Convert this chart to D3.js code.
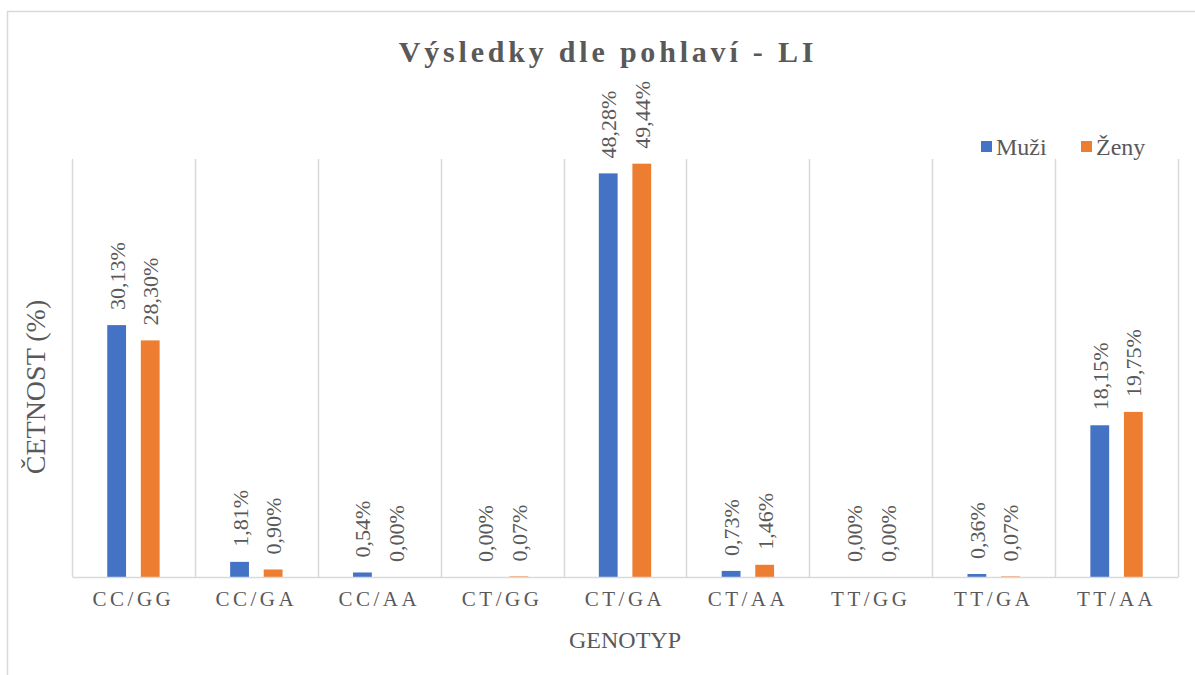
<!DOCTYPE html>
<html>
<head>
<meta charset="utf-8">
<script src="https://cdn.jsdelivr.net/npm/d3@7"></script>
<style>
  body { margin: 0; background: #fff; }
  svg text { font-family: "Liberation Serif", "Times New Roman", serif; fill: #595959; }
</style>
</head>
<body>
<div id="chart"></div>
<script>
const categories = ["CC/GG", "CC/GA", "CC/AA", "CT/GG", "CT/GA", "CT/AA", "TT/GG", "TT/GA", "TT/AA"];
const seriesNames = ["Muži", "Ženy"];
const muzi = [30.13, 1.81, 0.54, 0.00, 48.28, 0.73, 0.00, 0.36, 18.15];
const zeny = [28.30, 0.90, 0.00, 0.07, 49.44, 1.46, 0.00, 0.07, 19.75];
const colors = ["#4472C4", "#ED7D31"];

const width = 1195;
const height = 675;
const plot = { left: 72, right: 1178, top: 159, bottom: 577 };

const svg = d3
  .select("#chart")
  .append("svg")
  .attr("width", width)
  .attr("height", height);

// outer chart border
svg
  .append("rect")
  .attr("x", 7.5)
  .attr("y", 11.5)
  .attr("width", 1200)
  .attr("height", 700)
  .attr("fill", "none")
  .attr("stroke", "#d9d9d9")
  .attr("stroke-width", 1.5);

const x0 = d3
  .scaleBand()
  .domain(categories)
  .range([plot.left, plot.right]);

const x1 = d3
  .scaleBand()
  .domain(seriesNames)
  .range([0, x0.bandwidth()])
  .paddingInner(0.44)
  .paddingOuter(1.05);

const y = d3
  .scaleLinear()
  .domain([0, 50])
  .range([plot.bottom, plot.top]);

// vertical gridlines between categories
const bounds = categories.map((c) => x0(c)).concat([plot.right]);
svg
  .selectAll("line.grid")
  .data(bounds)
  .enter()
  .append("line")
  .attr("class", "grid")
  .attr("x1", (d) => Math.round(d) + 0.5)
  .attr("x2", (d) => Math.round(d) + 0.5)
  .attr("y1", plot.top)
  .attr("y2", plot.bottom)
  .attr("stroke", "#d9d9d9")
  .attr("stroke-width", 1.5);

const rows = categories.map((c, i) => ({
  cat: c,
  values: [
    { name: seriesNames[0], v: muzi[i] },
    { name: seriesNames[1], v: zeny[i] },
  ],
}));

const groups = svg
  .selectAll("g.cat")
  .data(rows)
  .enter()
  .append("g")
  .attr("class", "cat")
  .attr("transform", (d) => `translate(${x0(d.cat)},0)`);

groups
  .selectAll("rect")
  .data((d) => d.values)
  .enter()
  .append("rect")
  .attr("x", (d) => x1(d.name))
  .attr("y", (d) => y(d.v))
  .attr("width", x1.bandwidth())
  .attr("height", (d) => plot.bottom - y(d.v))
  .attr("fill", (d, i) => colors[i]);

groups
  .selectAll("text.val")
  .data((d) => d.values)
  .enter()
  .append("text")
  .attr("class", "val")
  .attr("transform", (d) => `translate(${x1(d.name) + x1.bandwidth() / 2 + 8},${y(d.v) - 15}) rotate(-90)`)
  .attr("font-size", 22)
  .text((d) => d.v.toFixed(2).replace(".", ",") + "%");

// baseline axis
const xAxis = d3.axisBottom(x0).tickSize(0).tickPadding(14);
const gx = svg
  .append("g")
  .attr("transform", `translate(0,${plot.bottom})`)
  .call(xAxis);
gx.select(".domain").attr("stroke", "#d9d9d9").attr("stroke-width", 1.5);
gx.selectAll("text")
  .attr("font-size", 21)
  .attr("letter-spacing", "3.5px")
  .attr("fill", "#595959");
gx.attr("font-family", null);

// title
svg
  .append("text")
  .attr("x", 608)
  .attr("y", 62)
  .attr("text-anchor", "middle")
  .attr("font-size", 30)
  .attr("font-weight", "bold")
  .attr("letter-spacing", "3.8px")
  .text("Výsledky dle pohlaví - LI");

// axis titles
svg
  .append("text")
  .attr("transform", "translate(45,387) rotate(-90)")
  .attr("text-anchor", "middle")
  .attr("font-size", 28)
  .text("ČETNOST (%)");

svg
  .append("text")
  .attr("x", 625)
  .attr("y", 648)
  .attr("text-anchor", "middle")
  .attr("font-size", 24)
  .text("GENOTYP");

// legend
const legend = svg
  .selectAll("g.legend")
  .data(seriesNames)
  .enter()
  .append("g")
  .attr("class", "legend")
  .attr("transform", (d, i) => `translate(${981 + i * 100},141)`);

legend
  .append("rect")
  .attr("width", 11)
  .attr("height", 11)
  .attr("fill", (d, i) => colors[i]);

legend
  .append("text")
  .attr("x", 15)
  .attr("y", 14)
  .attr("font-size", 24)
  .text((d) => d);
</script>
</body>
</html>
